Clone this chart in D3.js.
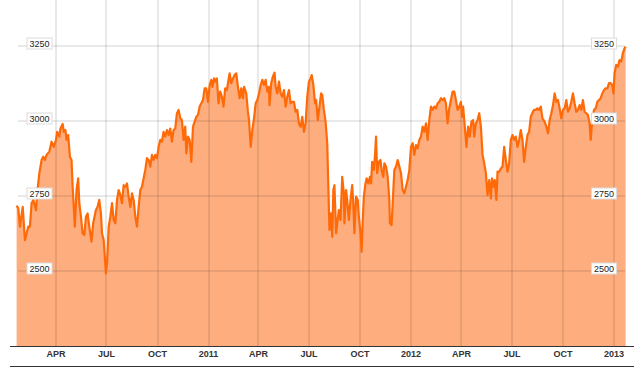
<!DOCTYPE html>
<html>
<head>
<meta charset="utf-8">
<script src="https://cdn.jsdelivr.net/npm/d3@7"></script>
<style>
  html, body { margin: 0; padding: 0; background: #fff; }
  svg { display: block; font-family: Arial, "Liberation Sans", sans-serif; }
</style>
</head>
<body>
<script>
// index level (roughly every 3 days)
const dates = [
  '2010-01-20','2010-01-23','2010-01-26','2010-01-31','2010-02-04','2010-02-07','2010-02-10','2010-02-13','2010-02-16','2010-02-19',
  '2010-02-24','2010-02-26','2010-03-02','2010-03-06','2010-03-09','2010-03-12','2010-03-15','2010-03-20','2010-03-24','2010-03-28',
  '2010-04-01','2010-04-03','2010-04-07','2010-04-09','2010-04-13','2010-04-15','2010-04-18','2010-04-20','2010-04-23','2010-04-26',
  '2010-04-29','2010-05-01','2010-05-05','2010-05-08','2010-05-11','2010-05-13','2010-05-16','2010-05-19','2010-05-22','2010-05-25',
  '2010-05-28','2010-05-31','2010-06-04','2010-06-07','2010-06-12','2010-06-15','2010-06-18','2010-06-21','2010-06-23','2010-06-26',
  '2010-06-28','2010-06-30','2010-07-02','2010-07-05','2010-07-08','2010-07-11','2010-07-14','2010-07-17','2010-07-20','2010-07-23',
  '2010-07-26','2010-07-29','2010-08-01','2010-08-04','2010-08-07','2010-08-10','2010-08-13','2010-08-16','2010-08-19','2010-08-22',
  '2010-08-25','2010-08-28','2010-08-31','2010-09-03','2010-09-06','2010-09-09','2010-09-12','2010-09-15','2010-09-18','2010-09-21',
  '2010-09-24','2010-09-27','2010-09-30','2010-10-03','2010-10-06','2010-10-09','2010-10-12','2010-10-15','2010-10-18','2010-10-21',
  '2010-10-24','2010-10-27','2010-10-30','2010-11-02','2010-11-05','2010-11-08','2010-11-11','2010-11-14','2010-11-17','2010-11-20',
  '2010-11-22','2010-11-25','2010-11-28','2010-12-01','2010-12-04','2010-12-07','2010-12-10','2010-12-13','2010-12-16','2010-12-19',
  '2010-12-22','2010-12-25','2010-12-28','2010-12-31',
  '2011-01-03','2011-01-06','2011-01-08','2011-01-11','2011-01-13','2011-01-16','2011-01-19','2011-01-22','2011-01-25','2011-01-28',
  '2011-01-31','2011-02-03','2011-02-08','2011-02-11','2011-02-14','2011-02-17','2011-02-20','2011-02-23','2011-02-26','2011-03-01',
  '2011-03-04','2011-03-06','2011-03-10','2011-03-13','2011-03-15','2011-03-18','2011-03-21','2011-03-24','2011-03-27','2011-03-30',
  '2011-04-02','2011-04-05','2011-04-08','2011-04-11','2011-04-14','2011-04-17','2011-04-20','2011-04-21','2011-04-24','2011-04-27',
  '2011-04-30','2011-05-02','2011-05-05','2011-05-08','2011-05-11','2011-05-14','2011-05-17','2011-05-20','2011-05-23','2011-05-26',
  '2011-05-29','2011-06-01','2011-06-04','2011-06-07','2011-06-10','2011-06-13','2011-06-16','2011-06-19','2011-06-22','2011-06-25',
  '2011-06-28','2011-07-01','2011-07-04','2011-07-06','2011-07-09','2011-07-12','2011-07-14','2011-07-17','2011-07-20','2011-07-23',
  '2011-07-25','2011-07-28','2011-07-31','2011-08-03','2011-08-05','2011-08-07','2011-08-10','2011-08-12','2011-08-14','2011-08-16',
  '2011-08-19','2011-08-21','2011-08-24','2011-08-27','2011-08-30','2011-09-02','2011-09-03','2011-09-06','2011-09-08','2011-09-11',
  '2011-09-14','2011-09-17','2011-09-19','2011-09-21','2011-09-24','2011-09-27','2011-09-29','2011-10-02','2011-10-04','2011-10-06',
  '2011-10-08','2011-10-11','2011-10-13','2011-10-16','2011-10-19','2011-10-21','2011-10-23','2011-10-26','2011-10-28','2011-10-30',
  '2011-11-01','2011-11-04','2011-11-07','2011-11-09','2011-11-12','2011-11-14','2011-11-17','2011-11-20','2011-11-23','2011-11-24',
  '2011-11-27','2011-11-29','2011-12-02','2011-12-05','2011-12-08','2011-12-11','2011-12-14','2011-12-17','2011-12-20','2011-12-23',
  '2011-12-26','2011-12-29',
  '2012-01-01','2012-01-04','2012-01-07','2012-01-10','2012-01-13','2012-01-16','2012-01-19','2012-01-22','2012-01-25','2012-01-28',
  '2012-01-31','2012-02-03','2012-02-06','2012-02-09','2012-02-12','2012-02-15','2012-02-18','2012-02-21','2012-02-24','2012-02-27',
  '2012-03-01','2012-03-04','2012-03-07','2012-03-10','2012-03-13','2012-03-16','2012-03-19','2012-03-22','2012-03-25','2012-03-28',
  '2012-03-31','2012-04-02','2012-04-04','2012-04-07','2012-04-10','2012-04-13','2012-04-16','2012-04-19','2012-04-22','2012-04-24',
  '2012-04-27','2012-04-30','2012-05-03','2012-05-06','2012-05-09','2012-05-12','2012-05-15','2012-05-18','2012-05-21','2012-05-24',
  '2012-05-26','2012-05-29','2012-05-31','2012-06-03','2012-06-05','2012-06-08','2012-06-11','2012-06-14','2012-06-17','2012-06-20',
  '2012-06-23','2012-06-26','2012-06-29','2012-07-02','2012-07-05','2012-07-08','2012-07-11','2012-07-14','2012-07-17','2012-07-20',
  '2012-07-23','2012-07-26','2012-07-29','2012-08-01','2012-08-04','2012-08-08','2012-08-10','2012-08-13','2012-08-16','2012-08-19',
  '2012-08-22','2012-08-25','2012-08-29','2012-09-01','2012-09-04','2012-09-07','2012-09-10','2012-09-13','2012-09-16','2012-09-19',
  '2012-09-22','2012-09-25','2012-09-28','2012-10-01','2012-10-04','2012-10-07','2012-10-10','2012-10-13','2012-10-16','2012-10-19',
  '2012-10-22','2012-10-25','2012-10-28','2012-10-31','2012-11-03','2012-11-06','2012-11-09','2012-11-12','2012-11-15','2012-11-18',
  '2012-11-20','2012-11-23','2012-11-26','2012-11-29','2012-12-02','2012-12-05','2012-12-08','2012-12-11','2012-12-14','2012-12-17',
  '2012-12-20','2012-12-23','2012-12-26','2012-12-29','2012-12-31',
  '2013-01-02','2013-01-05','2013-01-08','2013-01-11','2013-01-14','2013-01-17','2013-01-20','2013-01-22'
]

const values = [
  2718,2709,2648,2714,2603,2625,2648,2648,2726,2737,
  2703,2759,2826,2870,2881,2870,2887,2898,2931,2914,
  2937,2964,2948,2975,2990,2964,2970,2937,2953,2881,
  2870,2781,2648,2770,2809,2726,2681,2625,2620,2681,
  2692,2648,2598,2659,2703,2714,2737,2692,2625,2603,
  2548,2492,2526,2648,2681,2726,2670,2659,2737,2770,
  2753,2726,2786,2781,2792,2748,2714,2759,2737,2681,
  2648,2714,2770,2781,2809,2837,2876,2870,2848,2887,
  2870,2887,2876,2914,2937,2931,2964,2948,2970,2953,
  2975,2931,2970,2975,3026,3037,3009,3003,2937,2981,
  2892,2948,2937,2864,2981,2998,3014,3020,3048,3059,
  3070,3109,3109,3064,
  3120,3137,3114,3142,3131,3142,3059,3098,3081,3048,
  3109,3103,3159,3126,3142,3153,3159,3114,3076,3109,
  3076,3114,3092,3031,3003,2914,2970,3009,3059,3070,
  3092,3120,3137,3120,3137,3098,3114,3053,3126,3148,
  3161,3114,3092,3131,3092,3081,3103,3048,3081,3103,
  3059,3064,3064,3031,3037,2992,2981,3014,2964,2992,
  3081,3131,3142,3153,3120,3059,3070,3003,3048,3092,
  3087,3037,2998,2926,2781,2637,2692,2614,2770,2786,
  2626,2659,2703,2670,2814,2759,2659,2770,2737,2670,
  2737,2786,2726,2626,2748,2737,2681,2626,2564,2670,
  2748,2792,2809,2792,2814,2792,2864,2837,2881,2948,
  2826,2864,2870,2837,2814,2859,2848,2814,2737,2659,
  2653,2726,2837,2848,2870,2848,2826,2770,2759,2781,
  2803,2837,
  2914,2926,2887,2920,2909,2937,2948,2981,2964,2992,
  2937,3003,3048,3037,3048,3042,3059,3064,3076,3070,
  3076,3059,2992,3042,3070,3098,3098,3070,3037,3048,
  3064,3014,3048,2981,2914,2981,2948,2998,3003,2948,
  2992,3003,3026,2981,2887,2859,2826,2753,2803,2742,
  2809,2781,2803,2737,2831,2831,2842,2848,2914,2870,
  2831,2859,2937,2953,2937,2948,2914,2937,2970,2937,
  2864,2914,2953,2964,3014,3031,3037,3037,3042,3037,
  3048,3009,2998,2981,2959,3003,3026,3053,3092,3064,
  3070,3042,3009,3037,3042,3070,3031,3042,3064,3092,
  3059,3031,3037,3053,3037,3070,3031,3026,3020,2992,
  2937,3009,3037,3042,3064,3070,3076,3092,3103,3109,
  3109,3126,3126,3120,3092,
  3159,3187,3181,3203,3198,3226,3242,3248
]

const tickDates = ['2010-04-01','2010-07-01','2010-10-01','2011-01-01','2011-04-01','2011-07-01',
  '2011-10-01','2012-01-01','2012-04-01','2012-07-01','2012-10-01','2013-01-01']
const tickLabels = ['APR','JUL','OCT','2011','APR','JUL','OCT','2012','APR','JUL','OCT','2013']
const yTicks = [2500, 2750, 3000, 3250]

const parse = d3.timeParse('%Y-%m-%d')
const data = dates.map((d, i) => ({ date: parse(d), value: values[i] }))

const width = 642, height = 370
const baseY = 346

const x = d3.scaleTime()
  .domain([parse('2010-04-01'), parse('2013-01-01')])
  .range([56, 614])
const y = d3.scaleLinear().domain([2250, 3400]).range([baseY, 1])

const svg = d3.select('body').append('svg')
  .attr('width', width)
  .attr('height', height)
  .attr('viewBox', `0 0 ${width} ${height}`)

// filled area
svg.append('path')
  .datum(data)
  .attr('fill', '#fdad7e')
  .attr('d', d3.area().x(d => x(d.date)).y0(baseY).y1(d => y(d.value)))

// grid, drawn over the area so it darkens the fill a little
const grid = svg.append('g')
  .attr('stroke', 'rgba(0,0,0,0.085)')
  .attr('stroke-width', 2)
grid.selectAll('line.v')
  .data(tickDates)
  .enter().append('line')
  .attr('class', 'v')
  .attr('x1', d => Math.round(x(parse(d)))).attr('x2', d => Math.round(x(parse(d))))
  .attr('y1', 0).attr('y2', baseY)
grid.selectAll('line.h')
  .data(yTicks)
  .enter().append('line')
  .attr('class', 'h')
  .attr('x1', 18).attr('x2', 625)
  .attr('y1', d => Math.round(y(d))).attr('y2', d => Math.round(y(d)))

// the line itself
svg.append('path')
  .datum(data)
  .attr('fill', 'none')
  .attr('stroke', '#ff6a08')
  .attr('stroke-width', 2.2)
  .attr('stroke-linejoin', 'round')
  .attr('d', d3.line().x(d => x(d.date)).y(d => y(d.value)))

// value labels, both sides, in small boxes
const sides = [39.5, 604]
sides.forEach(cx => {
  const g = svg.append('g')
  const lab = g.selectAll('g')
    .data(yTicks)
    .enter().append('g')
    .attr('transform', d => `translate(${cx},${y(d)})`)
  lab.append('rect')
    .attr('x', -12.5).attr('y', -8)
    .attr('width', 25).attr('height', 11)
    .attr('fill', '#fff')
    .attr('stroke', '#dcdcdc')
    .attr('stroke-width', 1)
  lab.append('text')
    .attr('text-anchor', 'middle')
    .attr('y', 0.5)
    .attr('font-size', '9px')
    .attr('fill', '#222')
    .text(d => d)
})

// x axis lines
svg.append('line')
  .attr('x1', 10).attr('x2', 634)
  .attr('y1', baseY + 0.5).attr('y2', baseY + 0.5)
  .attr('stroke', '#333').attr('stroke-width', 1)
svg.append('line')
  .attr('x1', 10).attr('x2', 634)
  .attr('y1', 366.5).attr('y2', 366.5)
  .attr('stroke', '#333').attr('stroke-width', 1)

svg.append('g').selectAll('text')
  .data(tickDates)
  .enter().append('text')
  .attr('x', d => x(parse(d)))
  .attr('y', 357)
  .attr('text-anchor', 'middle')
  .attr('font-size', '9px')
  .attr('font-weight', 'bold')
  .attr('fill', '#333')
  .text((d, i) => tickLabels[i])
</script>
</body>
</html>
